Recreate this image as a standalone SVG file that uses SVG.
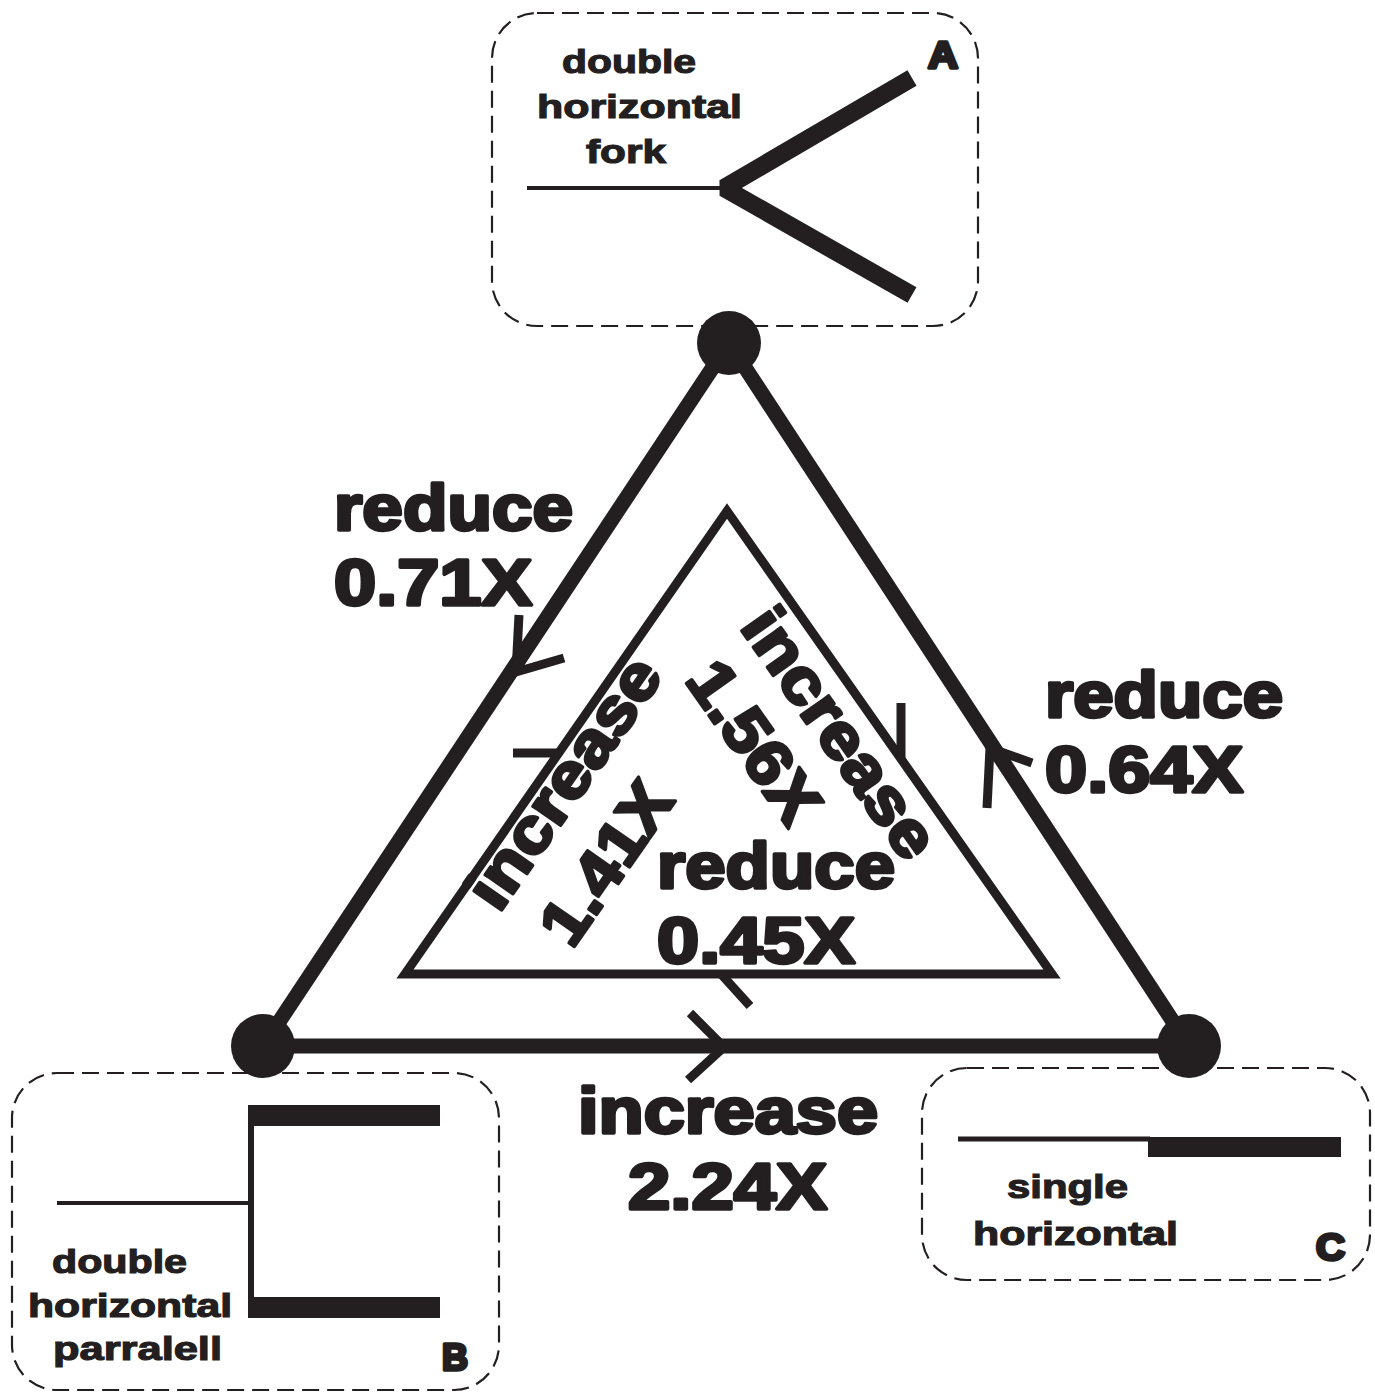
<svg xmlns="http://www.w3.org/2000/svg" width="1375" height="1393" viewBox="0 0 1375 1393">
<style>
.box{fill:none;stroke:#231f20;stroke-width:2.2;stroke-dasharray:17 8}
.heavy{font-family:"Liberation Sans",Arial,sans-serif;font-weight:bold;fill:#231f20;stroke:#231f20;stroke-width:3.4;stroke-linejoin:round}
.big{font-size:64px}
.small{font-family:"Liberation Sans",Arial,sans-serif;font-weight:bold;font-size:34px;fill:#231f20;stroke:#231f20;stroke-width:1.2}
.letter{font-size:36px}
.ln{stroke:#231f20;fill:none}
.dot{fill:#231f20}
</style>
<rect width="1375" height="1393" fill="#fff"/>

<g id="connectors">
  <path class="ln" d="M729,343 L263,1046 L1189,1046 Z" stroke-width="15" stroke-linejoin="round"/>
  <path class="ln" d="M727,511 L405,974 L1052,974 Z" stroke-width="9" stroke-linejoin="miter"/>
  <polyline class="ln" points="519,615 516,672 564,658" stroke-width="9"/>
  <polyline class="ln" points="987,808 990,748 1032,763" stroke-width="9"/>
  <polyline class="ln" points="690,1013 724,1047 688,1080" stroke-width="9"/>
  <line class="ln" x1="513" y1="753" x2="559" y2="753" stroke-width="9"/>
  <line class="ln" x1="901" y1="703" x2="901" y2="759" stroke-width="9"/>
  <line class="ln" x1="721" y1="974" x2="750" y2="1006" stroke-width="9"/>
</g>

<g id="edge-labels">
  <text class="heavy big" x="334" y="530" textLength="239" lengthAdjust="spacingAndGlyphs">reduce</text>
  <text class="heavy big" x="334" y="605" textLength="198" lengthAdjust="spacingAndGlyphs">0.71X</text>
  <text class="heavy big" x="1045" y="717" textLength="238" lengthAdjust="spacingAndGlyphs">reduce</text>
  <text class="heavy big" x="1045" y="792" textLength="198" lengthAdjust="spacingAndGlyphs">0.64X</text>
  <text class="heavy big" x="578" y="1133" textLength="300" lengthAdjust="spacingAndGlyphs">increase</text>
  <text class="heavy big" x="628" y="1209" textLength="199" lengthAdjust="spacingAndGlyphs">2.24X</text>
  <text class="heavy big" x="657" y="888" textLength="238" lengthAdjust="spacingAndGlyphs">reduce</text>
  <text class="heavy big" x="657" y="963" textLength="198" lengthAdjust="spacingAndGlyphs">0.45X</text>
  <text class="heavy big" transform="translate(499,914) rotate(-55.2)" textLength="290" lengthAdjust="spacingAndGlyphs">increase</text>
  <text class="heavy big" transform="translate(572,950) rotate(-55.2)" textLength="182" lengthAdjust="spacingAndGlyphs">1.41X</text>
  <text class="heavy big" transform="translate(739,627) rotate(54.9)" textLength="290" lengthAdjust="spacingAndGlyphs">increase</text>
  <text class="heavy big" transform="translate(684,680) rotate(54.9)" textLength="182" lengthAdjust="spacingAndGlyphs">1.56X</text>
</g>

<g id="node-A">
  <rect class="box" x="492" y="13" width="486" height="313" rx="45" ry="45"/>
  <line class="ln" x1="527" y1="188" x2="724" y2="188" stroke-width="4"/>
  <path class="ln" d="M912,78 L724,188 L912,295" stroke-width="18" stroke-linejoin="bevel"/>
  <text class="small" x="562" y="73" textLength="134" lengthAdjust="spacingAndGlyphs">double</text>
  <text class="small" x="537" y="118" textLength="205" lengthAdjust="spacingAndGlyphs">horizontal</text>
  <text class="small" x="586" y="163" textLength="80" lengthAdjust="spacingAndGlyphs">fork</text>
  <text class="heavy letter" x="928" y="68" textLength="30" lengthAdjust="spacingAndGlyphs">A</text>
  <circle class="dot" cx="729" cy="343" r="32"/>
</g>

<g id="node-B">
  <rect class="box" x="12" y="1073" width="487" height="317" rx="45" ry="45"/>
  <line class="ln" x1="57" y1="1203" x2="250" y2="1203" stroke-width="4"/>
  <line class="ln" x1="251" y1="1105" x2="251" y2="1318" stroke-width="6"/>
  <rect class="dot" x="248" y="1105" width="192" height="21"/>
  <rect class="dot" x="248" y="1297" width="192" height="21"/>
  <text class="small" x="52" y="1273" textLength="135" lengthAdjust="spacingAndGlyphs">double</text>
  <text class="small" x="28" y="1317" textLength="204" lengthAdjust="spacingAndGlyphs">horizontal</text>
  <text class="small" x="53" y="1360" textLength="169" lengthAdjust="spacingAndGlyphs">parralell</text>
  <text class="heavy letter" x="442" y="1370" textLength="26" lengthAdjust="spacingAndGlyphs">B</text>
  <circle class="dot" cx="263" cy="1046" r="32"/>
</g>

<g id="node-C">
  <rect class="box" x="922" y="1068" width="448" height="212" rx="45" ry="45"/>
  <line class="ln" x1="958" y1="1139" x2="1150" y2="1139" stroke-width="5"/>
  <rect class="dot" x="1148" y="1137" width="193" height="20"/>
  <text class="small" x="1007" y="1198" textLength="121" lengthAdjust="spacingAndGlyphs">single</text>
  <text class="small" x="973" y="1245" textLength="205" lengthAdjust="spacingAndGlyphs">horizontal</text>
  <text class="heavy letter" x="1316" y="1260" textLength="29" lengthAdjust="spacingAndGlyphs">C</text>
  <circle class="dot" cx="1189" cy="1046" r="32"/>
</g>
</svg>
